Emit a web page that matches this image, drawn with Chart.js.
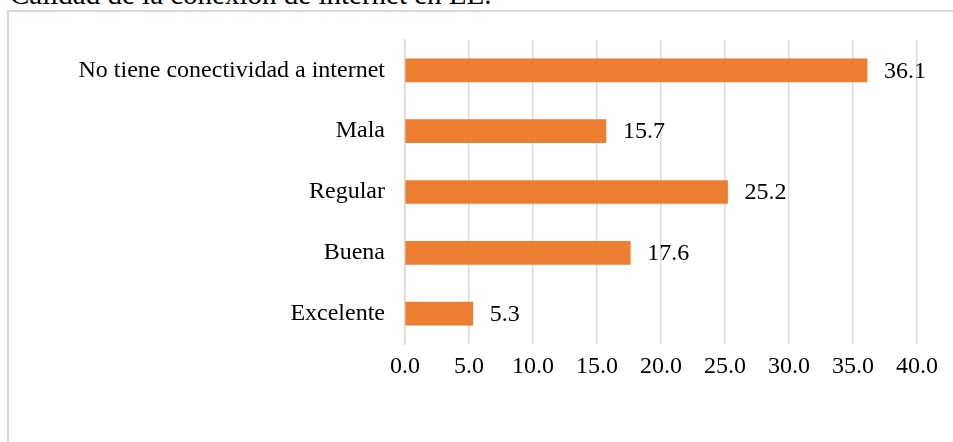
<!DOCTYPE html>
<html>
<head>
<meta charset="utf-8">
<script src="https://cdn.jsdelivr.net/npm/chart.js@4/dist/chart.umd.min.js"></script>
<style>
    body { margin: 0; background: #fff; overflow: hidden; }
    #wrap { position: relative; width: 953px; height: 442px; }
    #title {
        position: absolute; left: 10px; top: -20px;
        font: 29px/29px "Liberation Serif", "Times New Roman", serif;
        color: #000; white-space: nowrap;
    }
    #frame {
        position: absolute; left: 7px; top: 10px; width: 960px; height: 460px;
        border: 2px solid #d9d9d9; box-sizing: border-box;
    }
    #chart { position: absolute; left: 0; top: 0; }
</style>
</head>
<body>
<div id="wrap">
    <div id="title">Calidad de la conexión de internet en EE.</div>
    <div id="frame"></div>
    <canvas id="chart" width="953" height="442"></canvas>
</div>
<script>
// Survey answers and percentages
const categories = ['No tiene conectividad a internet', 'Mala', 'Regular', 'Buena', 'Excelente'];
const percentages = [36.1, 15.7, 25.2, 17.6, 5.3];
const xTicks = [0, 5, 10, 15, 20, 25, 30, 35, 40];

const barColor = '#ED7D31';
const gridColor = '#d9d9d9';
const fontFamily = '"Liberation Serif", "Times New Roman", serif';

// Value labels to the right of each bar
const valueLabels = {
    id: 'valueLabels',
    afterDatasetsDraw(chart) {
        const ctx = chart.ctx;
        const meta = chart.getDatasetMeta(0);
        ctx.save();
        ctx.font = '24px ' + fontFamily;
        ctx.fillStyle = '#000';
        ctx.textAlign = 'left';
        ctx.textBaseline = 'middle';
        meta.data.forEach((bar, i) => {
            ctx.fillText(percentages[i].toFixed(1), bar.x + 17, bar.y + 1);
        });
        ctx.restore();
    }
};

new Chart(document.getElementById('chart'), {
    type: 'bar',
    data: {
        labels: categories,
        datasets: [{
            data: percentages,
            backgroundColor: barColor,
            borderWidth: 0,
            barThickness: 23
        }]
    },
    options: {
        indexAxis: 'y',
        responsive: false,
        animation: false,
        layout: { padding: { top: 40, right: 36, left: 0, bottom: 0 } },
        plugins: {
            legend: { display: false },
            tooltip: { enabled: false }
        },
        scales: {
            x: {
                min: 0,
                max: 40,
                afterBuildTicks: axis => { axis.ticks = xTicks.map(v => ({ value: v })); },
                afterFit: axis => { axis.height = 98; },
                grid: { color: gridColor, lineWidth: 1.5, drawTicks: false },
                border: { display: false },
                ticks: {
                    padding: 8,
                    color: '#000',
                    font: { family: fontFamily, size: 24 },
                    callback: value => value.toFixed(1)
                }
            },
            y: {
                afterFit: axis => { axis.width = 405; },
                grid: { display: false, drawTicks: false },
                border: { color: gridColor, width: 1.5 },
                ticks: {
                    padding: 20,
                    color: '#000',
                    font: { family: fontFamily, size: 24 }
                }
            }
        }
    },
    plugins: [valueLabels]
});
</script>
</body>
</html>
